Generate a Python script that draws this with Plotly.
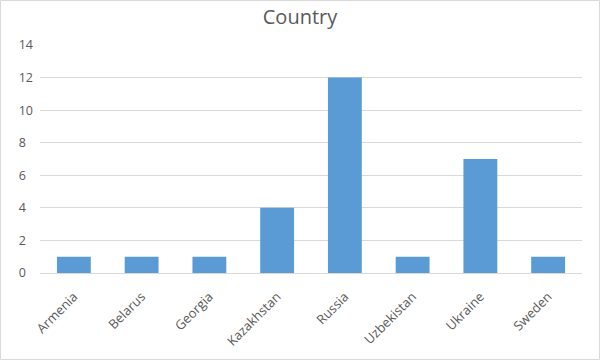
import plotly.graph_objects as go

categories = ["Armenia", "Belarus", "Georgia", "Kazakhstan", "Russia", "Uzbekistan", "Ukraine", "Sweden"]
values = [1, 1, 1, 4, 12, 1, 7, 1]
y_ticks = [0, 2, 4, 6, 8, 10, 12, 14]
y_tick_text = [f"{v}\u2007" if v < 10 else str(v) for v in y_ticks]

L, R, T, B = 40, 18, 45, 87
W, H = 600, 360
pw, ph = W - L - R, H - T - B

fig = go.Figure(go.Bar(x=categories, y=values, marker=dict(color="#5B9BD5", line=dict(width=0))))

fig.update_layout(
    width=W, height=H,
    margin=dict(l=L, r=R, t=T, b=B),
    paper_bgcolor="white", plot_bgcolor="white",
    bargap=0.5,
    showlegend=False,
    font=dict(family="Open Sans, Liberation Sans, Arial, sans-serif", color="#595959", size=12),
    title=dict(text="Country", x=0.5, xanchor="center", y=1 - 17 / H, yanchor="middle",
               font=dict(size=20, color="#595959")),
    xaxis=dict(showgrid=False, showline=True, linecolor="#d9d9d9", tickangle=-45, automargin=False,
               ticks="", ticklabelstandoff=10, tickfont=dict(size=13, color="#595959")),
    yaxis=dict(range=[0, 14], tickvals=y_ticks, ticktext=y_tick_text, showgrid=True, automargin=False,
               gridcolor="#d9d9d9", ticklabelstandoff=6,
               zeroline=False, showline=False, ticks="", tickfont=dict(size=12.5, color="#595959")),
    shapes=[dict(type="rect", xref="paper", yref="paper",
                 x0=(0.5 - L) / pw, x1=(W - 0.5 - L) / pw,
                 y0=(T + ph - (H - 0.5)) / ph, y1=(T + ph - 0.5) / ph,
                 line=dict(color="#d9d9d9", width=1), layer="below")],
)

fig.write_html("out.html")
